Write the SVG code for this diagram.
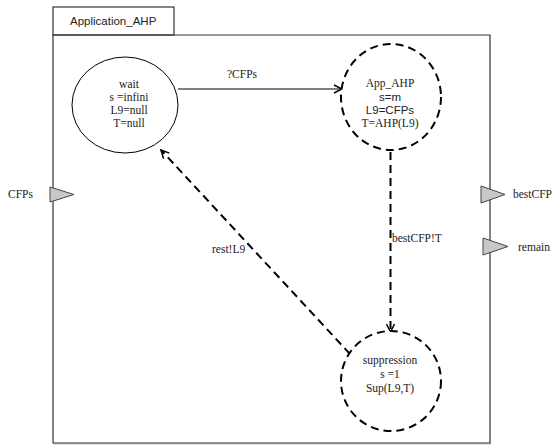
<svg xmlns="http://www.w3.org/2000/svg" width="554" height="445" viewBox="0 0 554 445">
<style>
.frame{fill:none;stroke:#333;stroke-width:1.2}
.serif{font-family:"Liberation Serif","Times New Roman",serif;font-size:11.5px;fill:#222}
.sans{font-family:"Liberation Sans",Arial,sans-serif;font-size:11.5px;fill:#222}
.st{fill:#fff;stroke:#000;stroke-width:1}
.std{fill:#fff;stroke:#000;stroke-width:2;stroke-dasharray:8 5}
.port{fill:#c8c8c8;stroke:#444;stroke-width:1}
.solid{fill:none;stroke:#000;stroke-width:1}
.dash{fill:none;stroke:#000;stroke-width:2;stroke-dasharray:8 5}
</style>
<defs>
<marker id="ah" markerWidth="10" markerHeight="10" refX="9" refY="5" orient="auto" markerUnits="userSpaceOnUse">
<path d="M1,1 L9,5 L1,9" fill="none" stroke="#000" stroke-width="1.5"/>
</marker>
</defs>
<rect width="554" height="445" fill="#fff"/>
<g id="frame">
<rect class="frame" x="53" y="7" width="121" height="28"/>
<text class="sans" x="70" y="25">Application_AHP</text>
<path class="frame" d="M53,35 L490,35 L490,443 L53,443 Z"/>
<line x1="53" y1="443.5" x2="491" y2="443.5" stroke="#888" stroke-width="1.5"/>
</g>
<g id="connectors">
<line class="solid" x1="178" y1="89" x2="342" y2="89" marker-end="url(#ah)"/>
<text class="serif" x="227" y="78">?CFPs</text>
<line class="dash" x1="390.5" y1="152" x2="390.5" y2="332" marker-end="url(#ah)"/>
<text class="serif" x="392" y="242">bestCFP!T</text>
<line class="dash" x1="350" y1="354" x2="161" y2="150" marker-end="url(#ah)"/>
<text class="serif" x="212" y="253">rest!L9</text>
</g>
<g id="wait">
<ellipse class="st" cx="125" cy="105" rx="53" ry="48"/>
<text class="serif" text-anchor="middle" x="129" y="88">wait</text>
<text class="serif" text-anchor="middle" x="129" y="101">s =infini</text>
<text class="serif" text-anchor="middle" x="129" y="114">L9=null</text>
<text class="serif" text-anchor="middle" x="129" y="127">T=null</text>
</g>
<g id="App_AHP">
<ellipse class="std" cx="391" cy="97" rx="50" ry="53"/>
<text class="serif" text-anchor="middle" x="390" y="87">App_AHP</text>
<text class="sans" text-anchor="middle" x="390" y="101">s=m</text>
<text class="sans" text-anchor="middle" x="390" y="114">L9=CFPs</text>
<text class="serif" text-anchor="middle" x="390" y="127">T=AHP(L9)</text>
</g>
<g id="suppression">
<ellipse class="std" cx="391" cy="381" rx="50" ry="50"/>
<text class="serif" text-anchor="middle" x="390" y="364">suppression</text>
<text class="serif" text-anchor="middle" x="390" y="378">s =1</text>
<text class="serif" text-anchor="middle" x="390" y="392">Sup(L9,T)</text>
</g>
<g id="port_CFPs">
<polygon class="port" points="50,187 50,202 74,194.5"/>
<text class="serif" x="8" y="198">CFPs</text>
</g>
<g id="port_bestCFP">
<polygon class="port" points="481,186 481,203 505,194.5"/>
<text class="serif" x="513" y="198">bestCFP</text>
</g>
<g id="port_remain">
<polygon class="port" points="483,238 483,255 508,246.5"/>
<text class="serif" x="518" y="251">remain</text>
</g>
</svg>
